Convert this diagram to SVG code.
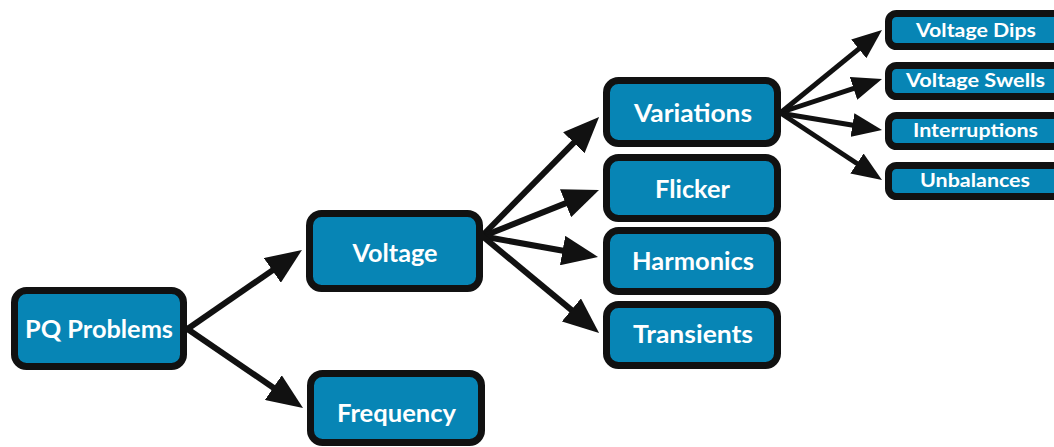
<svg xmlns="http://www.w3.org/2000/svg" width="1054" height="447" viewBox="0 0 1054 447">
<style>
.box{fill:#0785b5;stroke:#111;stroke-width:7}
.big{font-family:Lato,"Open Sans",sans-serif;font-weight:700;font-size:25px;fill:#fff;text-anchor:middle}
.sm{font-family:Lato,"Open Sans",sans-serif;font-weight:700;font-size:18px;fill:#fff;text-anchor:middle}
.c{stroke:#111;stroke-width:6;fill:none}
.cs{stroke:#111;stroke-width:5;fill:none}
</style>
<defs>
<marker id="ah" viewBox="0 0 36 30" markerWidth="36" markerHeight="30" refX="12" refY="15" orient="auto" markerUnits="userSpaceOnUse"><path d="M0,0 L36,15 L0,30 Z" fill="#111"/></marker>
<marker id="as" viewBox="0 0 30 24" markerWidth="30" markerHeight="24" refX="10" refY="12" orient="auto" markerUnits="userSpaceOnUse"><path d="M0,0 L30,12 L0,24 Z" fill="#111"/></marker>
</defs>
<g id="connectors">
<line class="c" x1="186" y1="330" x2="282.2" y2="263.6" marker-end="url(#ah)"/>
<line class="c" x1="186" y1="328" x2="283.2" y2="394.4" marker-end="url(#ah)"/>
<line class="c" x1="481" y1="237" x2="582.25" y2="134.2" marker-end="url(#ah)"/>
<line class="c" x1="481" y1="237" x2="576.7" y2="198.85" marker-end="url(#ah)"/>
<line class="c" x1="481" y1="236" x2="574.4" y2="252.7" marker-end="url(#ah)"/>
<line class="c" x1="481" y1="235" x2="580.6" y2="317.6" marker-end="url(#ah)"/>
<line class="cs" x1="779" y1="114" x2="866.5" y2="42.6" marker-end="url(#as)"/>
<line class="cs" x1="779" y1="113" x2="863" y2="85.3" marker-end="url(#as)"/>
<line class="cs" x1="779" y1="113" x2="862.3" y2="126.7" marker-end="url(#as)"/>
<line class="cs" x1="779" y1="112" x2="865.3" y2="169" marker-end="url(#as)"/>
</g>
<g id="pq"><rect class="box" x="14.5" y="290.5" width="169" height="76" rx="12"/><text class="big" x="99" y="338" textLength="148" lengthAdjust="spacingAndGlyphs">PQ Problems</text></g>
<g id="voltage"><rect class="box" x="309.5" y="213.5" width="170" height="75" rx="12"/><text class="big" x="395" y="262" textLength="85" lengthAdjust="spacingAndGlyphs">Voltage</text></g>
<g id="frequency"><rect class="box" x="310.5" y="373.5" width="171" height="69" rx="12"/><text class="big" x="396.5" y="422" textLength="119" lengthAdjust="spacingAndGlyphs">Frequency</text></g>
<g id="variations"><rect class="box" x="606.5" y="80.5" width="171" height="63" rx="12"/><text class="big" x="693" y="122" textLength="118" lengthAdjust="spacingAndGlyphs">Variations</text></g>
<g id="flicker"><rect class="box" x="606.5" y="157.5" width="171" height="61" rx="12"/><text class="big" x="692.5" y="198" textLength="75" lengthAdjust="spacingAndGlyphs">Flicker</text></g>
<g id="harmonics"><rect class="box" x="606.5" y="230.5" width="171" height="61" rx="12"/><text class="big" x="693" y="270" textLength="122" lengthAdjust="spacingAndGlyphs">Harmonics</text></g>
<g id="transients"><rect class="box" x="606.5" y="304.5" width="171" height="61" rx="12"/><text class="big" x="693" y="343" textLength="120" lengthAdjust="spacingAndGlyphs">Transients</text></g>
<g id="dips"><rect class="box" x="888.5" y="13.5" width="180" height="33" rx="8"/><text class="sm" x="976" y="37" textLength="120" lengthAdjust="spacingAndGlyphs">Voltage Dips</text></g>
<g id="swells"><rect class="box" x="888.5" y="65.5" width="180" height="31" rx="8"/><text class="sm" x="975.5" y="87" textLength="139" lengthAdjust="spacingAndGlyphs">Voltage Swells</text></g>
<g id="interruptions"><rect class="box" x="888.5" y="115.5" width="180" height="31" rx="8"/><text class="sm" x="975.5" y="137" textLength="125" lengthAdjust="spacingAndGlyphs">Interruptions</text></g>
<g id="unbalances"><rect class="box" x="888.5" y="165.5" width="180" height="31" rx="8"/><text class="sm" x="975" y="187" textLength="110" lengthAdjust="spacingAndGlyphs">Unbalances</text></g>
</svg>
